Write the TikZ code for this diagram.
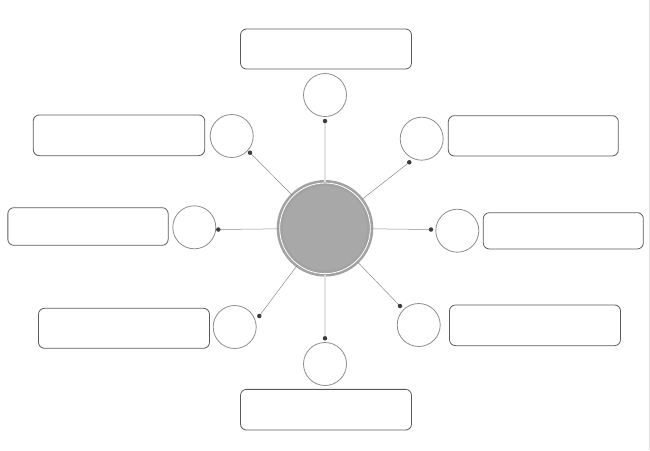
\documentclass[tikz,border=0pt]{standalone}

\definecolor{hubfill}{HTML}{A8A8A8}
\definecolor{ringgray}{HTML}{A2A2A2}
\definecolor{bubblegray}{HTML}{8C8C8C}
\definecolor{boxgray}{HTML}{5A5A5A}
\definecolor{spokegray}{HTML}{8A8A8A}
\definecolor{faintgray}{HTML}{E2E2E2}
\definecolor{pindark}{HTML}{3C3C3C}

\begin{document}
\begin{tikzpicture}[x=1pt, y=-1pt,
	hub/.style = {circle, draw=ringgray, double=white, double distance=0.8pt, line width=2.6pt, fill=hubfill, minimum size=90.6pt, inner sep=0pt},
	bubble/.style = {circle, draw=bubblegray, line width=0.8pt, minimum size=43pt, inner sep=0pt},
	labelbox/.style = {draw=boxgray, line width=0.8pt, rounded corners=6pt, inner sep=0pt},
	pin/.style = {circle, fill=pindark, minimum size=4.5pt, inner sep=0pt},
	spoke/.style = {draw=spokegray, line width=0.5pt},
	faintspoke/.style = {draw=faintgray, line width=1.2pt}]

	\useasboundingbox (0,0) rectangle (650,450);
	\draw[gray!25, line width=0.8pt] (649,0) -- (649,450);

	\node[hub] (hub) at (325,228.3) {};

	% name / bubble / pin / box centre / box size / spoke style
	\foreach \n/\cx/\cy/\px/\py/\bx/\by/\bw/\bh/\s in {
		top/325/95/325/121/326/49/171/40/faintspoke,
		upright/421.7/138.7/409.3/162.3/533.3/135.8/170/40.3/spoke,
		right/457.3/230.7/431/229.5/563.3/230.8/160/36.3/spoke,
		lowright/418.7/325/400/306/535/325.3/171/40.7/spoke,
		bottom/325/364/325/338.3/326/409.7/171/40.7/faintspoke,
		lowleft/234.7/327/259.3/316/124/328.3/171/40/spoke,
		left/194.3/227.3/218.3/229.5/88/226.5/160.3/37.6/spoke,
		upleft/231.7/136/250/152.7/119/135.3/171.4/40.7/spoke}
	{
		\node[bubble] (c\n) at (\cx,\cy) {};
		\node[labelbox, minimum width=\bw pt, minimum height=\bh pt] (b\n) at (\bx,\by) {};
		\draw[\s] (hub) -- (\px,\py) node[pin] (p\n) {};
	}
\end{tikzpicture}
\end{document}
